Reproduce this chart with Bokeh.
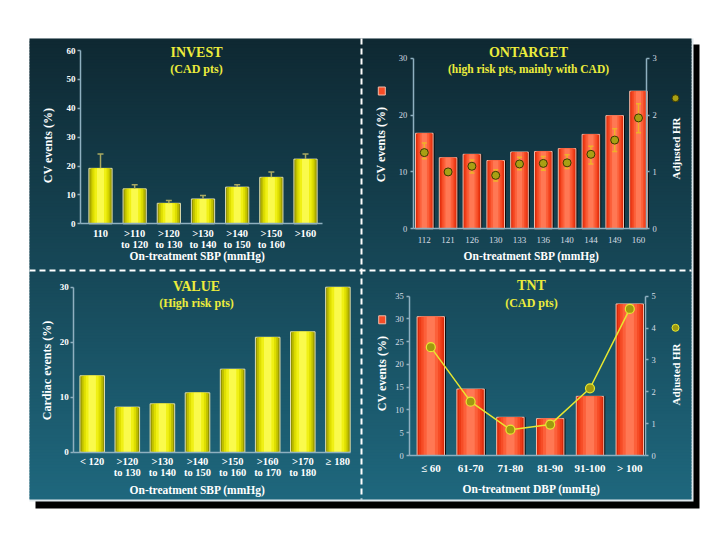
import numpy as np
from bokeh.plotting import figure
from bokeh.models import Range1d, LinearAxis, FixedTicker, Label, ColumnDataSource
from bokeh.transform import dodge
from bokeh.embed import file_html
from bokeh.resources import INLINE

# ---------------- data ----------------
invest_cats = ["110", ">110\nto 120", ">120\nto 130", ">130\nto 140",
               ">140\nto 150", ">150\nto 160", ">160"]
invest_events = [19.2, 12.1, 7.1, 8.6, 12.7, 16.1, 22.4]
invest_upper = [24.2, 13.5, 8.1, 9.8, 13.5, 17.9, 24.2]
invest_yticks = [0, 10, 20, 30, 40, 50, 60]

ontarget_cats = ["112", "121", "126", "130", "133", "136", "140", "144", "149", "160"]
ontarget_events = [16.8, 12.5, 13.1, 12.0, 13.5, 13.6, 14.1, 16.6, 19.9, 24.2]
ontarget_hr = [1.34, 1.00, 1.10, 0.94, 1.14, 1.15, 1.16, 1.31, 1.56, 1.95]
ontarget_hr_lo = [1.23, 1.00, 0.98, 0.84, 1.04, 1.03, 1.06, 1.14, 1.36, 1.69]
ontarget_hr_hi = [1.51, 1.00, 1.21, 1.04, 1.26, 1.27, 1.30, 1.45, 1.76, 2.20]
ontarget_yticks = [0, 10, 20, 30]
ontarget_hrticks = [0, 1, 2, 3]

value_cats = ["< 120", ">120\nto 130", ">130\nto 140", ">140\nto 150",
              ">150\nto 160", ">160\nto 170", ">170\nto 180", "\u2265 180"]
value_events = [13.9, 8.2, 8.8, 10.8, 15.1, 20.9, 21.9, 30.0]
value_yticks = [0, 10, 20, 30]

tnt_cats = ["\u2264 60", "61-70", "71-80", "81-90", "91-100", "> 100"]
tnt_events = [30.5, 14.6, 8.4, 8.1, 13.0, 33.3]
tnt_hr = [3.40, 1.69, 0.81, 0.97, 2.11, 4.60]
tnt_yticks = [0, 5, 10, 15, 20, 25, 30, 35]
tnt_hrticks = [0, 1, 2, 3, 4, 5]

# ---------------- layout (page pixel geometry) ----------------
PX0, PX1, PY0, PY1 = 0, 712, 0, 532
FONT = "Liberation Serif"
AXIS_COL = "#8fb0c0"
TITLE_COL = "#ecec3c"
YELLOWS = ["#949400", "#c0c000", "#dede00", "#f0f014", "#fafa4c"]
REDS = ["#d82a0a", "#ec3a16", "#f64c26", "#fc603a", "#ff7854"]
SHADE_W = [1.0, 0.86, 0.7, 0.52, 0.3]

p = figure(width=PX1 - PX0, height=PY1 - PY0, x_range=Range1d(PX0, PX1),
           y_range=Range1d(PY1, PY0), output_backend="svg", toolbar_location=None,
           x_axis_type=None, y_axis_type=None, min_border=0)
p.grid.visible = False
p.outline_line_color = None
p.background_fill_color = "white"
p.border_fill_color = "white"

# slide frame: shadow, light rim, gradient background
p.quad(left=[35], right=[699], top=[44], bottom=[508], fill_color="black", line_color=None)
p.quad(left=[29], right=[693], top=[38], bottom=[501], fill_color="#dfe8ec", line_color=None)
ys = np.arange(38, 499, 3)
c0 = np.array([15, 41, 51]); c1 = np.array([31, 104, 126])
cols = []
for yv in ys:
    t = (yv - 38) / (499 - 38)
    c = (c0 + (c1 - c0) * t).astype(int)
    cols.append("#%02x%02x%02x" % tuple(c))
p.quad(left=29, right=691, top=ys, bottom=np.minimum(ys + 4, 499), fill_color=cols, line_color=None)

# dashed dividers
p.line([361, 361], [38, 499], line_color="white", line_width=2, line_dash="6 4")
p.line([29, 691], [270, 270], line_color="white", line_width=2, line_dash="6 4")


def xr(px_first, dx):
    return Range1d(start=(PX0 - px_first) / dx, end=(PX1 - px_first) / dx)


def yr(p_zero, p_top, v_top):
    s = v_top / (p_top - p_zero)
    return Range1d(start=(PY1 - p_zero) * s, end=(PY0 - p_zero) * s)


def style_axis(ax, size="9px", bold=True, color="white", standoff=2, tick=3):
    ax.axis_line_color = AXIS_COL
    ax.axis_line_width = 1.5
    ax.major_tick_line_color = AXIS_COL
    ax.major_tick_line_width = 1.5
    ax.major_tick_out = tick
    ax.major_tick_in = 0
    ax.minor_tick_line_color = None
    ax.major_label_text_color = color
    ax.major_label_text_font = FONT
    ax.major_label_text_font_style = "bold" if bold else "normal"
    ax.major_label_text_font_size = size
    ax.major_label_standoff = standoff
    ax.major_label_text_line_height = 1.0


def cyl_bars(xs, tops, width, colors, rname_x, rname_y, outline, shadow_dx=None):
    src = ColumnDataSource(dict(x=xs, top=tops))
    if shadow_dx is not None:
        p.vbar(x=dodge("x", shadow_dx), top="top", bottom=0, width=width, source=src,
               fill_color="#0a0a0a", line_color=None,
               x_range_name=rname_x, y_range_name=rname_y)
    for k, (c, f) in enumerate(zip(colors, SHADE_W)):
        p.vbar(x="x", top="top", bottom=0, width=width * f, source=src, fill_color=c,
               line_color=outline if k == 0 else None, line_width=1,
               x_range_name=rname_x, y_range_name=rname_y)


def label(x, y, text, size, color="white", bold=True, angle=0.0):
    p.add_layout(Label(x=x, y=y, text=text, text_font=FONT, text_font_size=size,
                       text_font_style="bold" if bold else "normal", text_color=color,
                       text_align="center", text_baseline="middle", angle=angle))


def y_axis(rname, loc, ticks, side, size="9px", bold=True, color="white", standoff=2):
    ax = LinearAxis(y_range_name=rname, fixed_location=loc, bounds=(ticks[0], ticks[-1]),
                    ticker=FixedTicker(ticks=ticks))
    style_axis(ax, size=size, bold=bold, color=color, standoff=standoff)
    p.add_layout(ax, side)


def x_axis(rname_x, rname_y, cats, x_lo, x_hi, size, bold=True, color="white", standoff=4):
    ax = LinearAxis(x_range_name=rname_x, y_range_name=rname_y, fixed_location=0,
                    bounds=(x_lo, x_hi), ticker=FixedTicker(ticks=list(range(len(cats)))),
                    major_label_overrides={i: c for i, c in enumerate(cats)})
    style_axis(ax, size=size, bold=bold, color=color, standoff=standoff, tick=0)
    p.add_layout(ax, "below")


HALF_PI = np.pi / 2

# ---------------- INVEST ----------------
inv_x0, inv_dx = 100, 34.17
p.extra_x_ranges["inv_x"] = xr(inv_x0, inv_dx)
p.extra_y_ranges["inv_y"] = yr(223.3, 50, 60)
ix = list(range(len(invest_cats)))
cyl_bars(ix, invest_events, 0.68, YELLOWS, "inv_x", "inv_y", "#dcdcb0")
p.segment(x0=ix, y0=invest_events, x1=ix, y1=invest_upper, line_color="#a8a860",
          line_width=1.5, x_range_name="inv_x", y_range_name="inv_y")
p.scatter(x=ix, y=invest_upper, marker="dash", size=6, line_color="#a8a860", line_width=1.5,
          x_range_name="inv_x", y_range_name="inv_y")
y_axis("inv_y", 80, invest_yticks, "left")
x_axis("inv_x", "inv_y", invest_cats, (80 - inv_x0) / inv_dx, (321.7 - inv_x0) / inv_dx, "10.5px")
label(196, 52, "INVEST", "14px", TITLE_COL)
label(196, 68, "(CAD pts)", "12px", TITLE_COL)
label(47, 145, "CV events (%)", "12px", angle=HALF_PI)
label(197, 255, "On-treatment SBP (mmHg)", "11.5px")

# ---------------- ONTARGET ----------------
ont_x0, ont_dx = 423.8, 23.8
p.extra_x_ranges["ont_x"] = xr(ont_x0, ont_dx)
p.extra_y_ranges["ont_y"] = yr(228.3, 57.7, 30)
p.extra_y_ranges["ont_hr"] = yr(228.3, 57.7, 3)
ox = list(range(len(ontarget_cats)))
cyl_bars(ox, ontarget_events, 0.74, REDS, "ont_x", "ont_y", "#f2bcaa", shadow_dx=1.5 / ont_dx)
p.segment(x0=ox, y0=ontarget_hr_lo, x1=ox, y1=ontarget_hr_hi, line_color="#f0b028",
          line_width=1.5, x_range_name="ont_x", y_range_name="ont_hr")
p.scatter(x=ox + ox, y=ontarget_hr_lo + ontarget_hr_hi, marker="dash", size=5,
          line_color="#f0b028", line_width=1.5, x_range_name="ont_x", y_range_name="ont_hr")
p.scatter(x=ox, y=ontarget_hr, size=8, fill_color="#a8a014", line_color="#3c3800",
          line_width=1, x_range_name="ont_x", y_range_name="ont_hr")
y_axis("ont_y", 412.7, ontarget_yticks, "left", size="8.5px", bold=False, color="#d8dee4", standoff=3)
y_axis("ont_hr", 646, ontarget_hrticks, "right", size="8.5px", bold=False, color="#d8dee4", standoff=3)
x_axis("ont_x", "ont_y", ontarget_cats, (412.7 - ont_x0) / ont_dx, (646 - ont_x0) / ont_dx,
       "9px", bold=False, color="#d8dee4", standoff=8)
label(528, 52, "ONTARGET", "14px", TITLE_COL)
label(528, 68, "(high risk pts, mainly with CAD)", "11.5px", TITLE_COL)
label(380, 144, "CV events (%)", "12px", angle=HALF_PI)
label(675, 148, "Adjusted HR", "11px", angle=HALF_PI)
label(531, 255, "On-treatment SBP (mmHg)", "11.5px")
p.rect(x=[381.3], y=[90.5], width=7, height=8, fill_color="#f64c26", line_color="#f2bcaa")
p.scatter(x=[675], y=[97.7], size=7, fill_color="#a8a014", line_color="#3c3800")

# ---------------- VALUE ----------------
val_x0, val_dx = 91.7, 35.1
p.extra_x_ranges["val_x"] = xr(val_x0, val_dx)
p.extra_y_ranges["val_y"] = yr(451.7, 286.7, 30)
vx = list(range(len(value_cats)))
cyl_bars(vx, value_events, 0.70, YELLOWS, "val_x", "val_y", "#dcdcb0")
y_axis("val_y", 73.3, value_yticks, "left")
x_axis("val_x", "val_y", value_cats, (73.3 - val_x0) / val_dx, (350 - val_x0) / val_dx, "10.5px")
label(196, 286, "VALUE", "14px", TITLE_COL)
label(196, 302, "(High risk pts)", "12px", TITLE_COL)
label(46.7, 370, "Cardiac events (%)", "12px", angle=HALF_PI)
label(197, 489, "On-treatment SBP (mmHg)", "11.5px")

# ---------------- TNT ----------------
tnt_x0, tnt_dx = 430.3, 39.8
p.extra_x_ranges["tnt_x"] = xr(tnt_x0, tnt_dx)
p.extra_y_ranges["tnt_y"] = yr(455, 295.7, 35)
p.extra_y_ranges["tnt_hr"] = yr(455, 295.7, 5)
tx = list(range(len(tnt_cats)))
cyl_bars(tx, tnt_events, 0.69, REDS, "tnt_x", "tnt_y", "#f2bcaa", shadow_dx=1.5 / tnt_dx)
p.line(x=tx, y=tnt_hr, line_color="#e8e830", line_width=1.5, x_range_name="tnt_x", y_range_name="tnt_hr")
p.scatter(x=tx, y=tnt_hr, size=9, fill_color="#a09a10", line_color="#e8e830", line_width=1.2,
          x_range_name="tnt_x", y_range_name="tnt_hr")
y_axis("tnt_y", 409.3, tnt_yticks, "left", size="8.5px", bold=False, color="#d8dee4", standoff=3)
y_axis("tnt_hr", 645, tnt_hrticks, "right", size="8.5px", bold=False, color="#d8dee4", standoff=3)
x_axis("tnt_x", "tnt_y", tnt_cats, (409.3 - tnt_x0) / tnt_dx, (645 - tnt_x0) / tnt_dx, "11px", standoff=6)
label(531, 285, "TNT", "14px", TITLE_COL)
label(531, 302, "(CAD pts)", "12px", TITLE_COL)
label(381.7, 373, "CV events (%)", "12px", angle=HALF_PI)
label(675, 374, "Adjusted HR", "11px", angle=HALF_PI)
label(531, 488, "On-treatment DBP (mmHg)", "11.5px")
p.rect(x=[381.7], y=[319.3], width=7, height=8, fill_color="#f64c26", line_color="#f2bcaa")
p.scatter(x=[675], y=[327.3], size=7, fill_color="#a09a10", line_color="#e8e830")

open("out.html", "w").write(file_html(p, INLINE))
